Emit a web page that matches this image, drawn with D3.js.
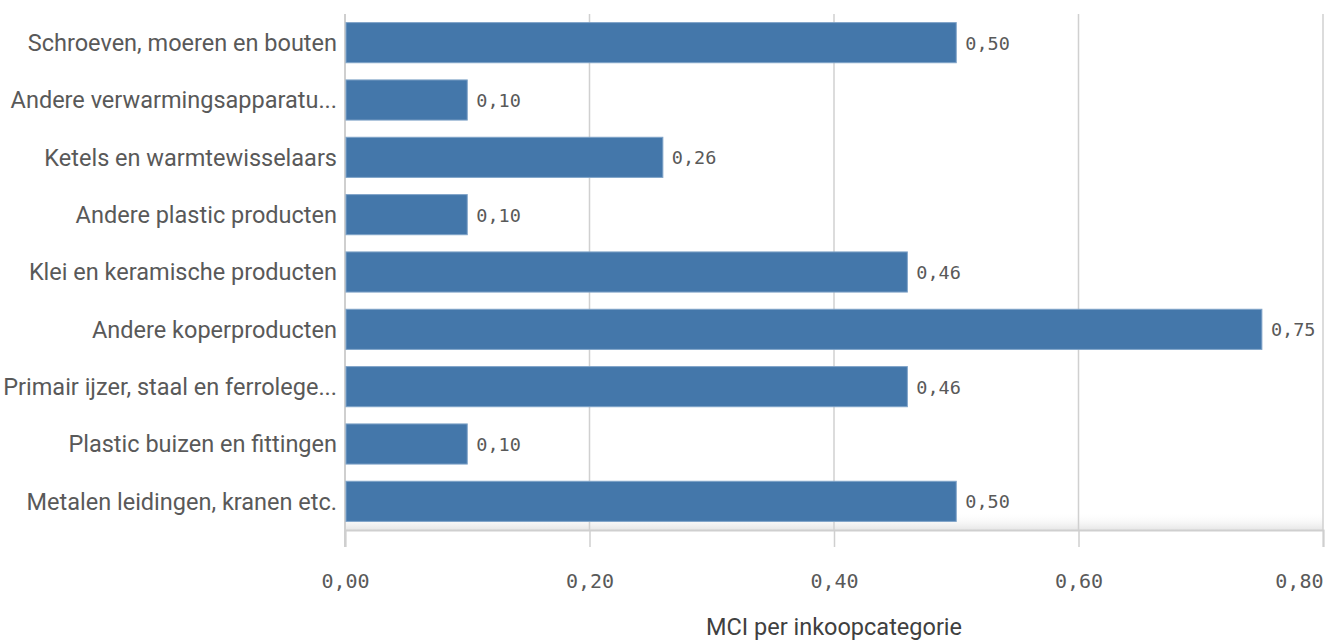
<!DOCTYPE html>
<html>
<head>
<meta charset="utf-8">
<script src="https://cdn.jsdelivr.net/npm/d3@7"></script>
<style>
  html, body { margin: 0; padding: 0; background: #fff; }
  svg { display: block; }
</style>
</head>
<body>
<svg id="chart" width="1325" height="641"></svg>
<script>
// Purchase categories (top to bottom) and their MCI values
const categories = [
  "Schroeven, moeren en bouten",
  "Andere verwarmingsapparatu...",
  "Ketels en warmtewisselaars",
  "Andere plastic producten",
  "Klei en keramische producten",
  "Andere koperproducten",
  "Primair ijzer, staal en ferrolege...",
  "Plastic buizen en fittingen",
  "Metalen leidingen, kranen etc."
];
const mciValues = [0.50, 0.10, 0.26, 0.10, 0.46, 0.75, 0.46, 0.10, 0.50];
const xTicks = [0, 0.2, 0.4, 0.6, 0.8];
const axisTitle = "MCI per inkoopcategorie";

const svg = d3.select("#chart");
const margin = { top: 14, right: 2, bottom: 111, left: 345 };
const W = 1325, H = 641;
const plotW = W - margin.left - margin.right;
const plotH = H - margin.top - margin.bottom;

const fmt = v => d3.format(".2f")(v).replace(".", ",");

const x = d3.scaleLinear().domain([0, 0.8]).range([0, plotW]);
const y = d3.scaleBand().domain(categories).range([0, plotH])
  .paddingInner(0.3).paddingOuter(0.15);

const defs = svg.append("defs");
const grad = defs.append("linearGradient").attr("id", "floor")
  .attr("x1", 0).attr("y1", 0).attr("x2", 0).attr("y2", 1);
grad.append("stop").attr("offset", "0%").attr("stop-color", "#ffffff").attr("stop-opacity", 0);
grad.append("stop").attr("offset", "100%").attr("stop-color", "#e6e6e6").attr("stop-opacity", 1);

const g = svg.append("g").attr("transform", `translate(${margin.left},${margin.top})`);

// soft floor shading just above the bottom axis
g.append("rect")
  .attr("x", 0).attr("y", plotH - 18)
  .attr("width", plotW).attr("height", 18)
  .attr("fill", "url(#floor)");

// vertical gridlines
g.append("g").selectAll("line").data(xTicks.filter(t => t > 0)).join("line")
  .attr("x1", d => x(d)).attr("x2", d => x(d))
  .attr("y1", 0).attr("y2", plotH)
  .attr("stroke", "#d0d0d0").attr("stroke-width", 1.5);

// bottom axis with ticks
const xAxis = d3.axisBottom(x).tickValues(xTicks).tickFormat(fmt)
  .tickSize(17).tickPadding(27);
const ax = g.append("g").attr("transform", `translate(0,${plotH})`).call(xAxis);
ax.select(".domain").attr("stroke", "#cfcfcf").attr("stroke-width", 2);
ax.selectAll(".tick line").attr("stroke", "#cfcfcf").attr("stroke-width", 1.5);
ax.selectAll(".tick text")
  .attr("fill", "#595959")
  .style("font-family", "'DejaVu Sans Mono', monospace")
  .style("font-size", "20px")
  .attr("text-anchor", d => d === xTicks[xTicks.length - 1] ? "end" : "middle");

// left axis line
g.append("line")
  .attr("x1", 0).attr("x2", 0).attr("y1", 0).attr("y2", plotH + 17)
  .attr("stroke", "#cfcfcf").attr("stroke-width", 2);

// bars
g.append("g").selectAll("rect").data(mciValues).join("rect")
  .attr("x", 1)
  .attr("y", (d, i) => y(categories[i]))
  .attr("width", d => x(d) - 1)
  .attr("height", y.bandwidth())
  .attr("fill", "#4477aa")
  .attr("stroke", "#7fa3c8").attr("stroke-width", 1);

// value labels
g.append("g").selectAll("text").data(mciValues).join("text")
  .attr("x", d => x(d) + 9)
  .attr("y", (d, i) => y(categories[i]) + y.bandwidth() / 2)
  .attr("dy", "0.38em")
  .attr("fill", "#595959")
  .style("font-family", "'DejaVu Sans Mono', monospace")
  .style("font-size", "18.5px")
  .text(fmt);

// category labels
g.append("g").selectAll("text").data(categories).join("text")
  .attr("x", -8)
  .attr("y", d => y(d) + y.bandwidth() / 2)
  .attr("dy", "0.36em")
  .attr("text-anchor", "end")
  .attr("fill", "#595959")
  .style("font-family", "Roboto, sans-serif")
  .style("font-size", "23.5px")
  .text(d => d);

// axis title
svg.append("text")
  .attr("x", margin.left + plotW / 2)
  .attr("y", 635)
  .attr("text-anchor", "middle")
  .attr("fill", "#404040")
  .style("font-family", "Roboto, sans-serif")
  .style("font-size", "23.5px")
  .text(axisTitle);
</script>
</body>
</html>
